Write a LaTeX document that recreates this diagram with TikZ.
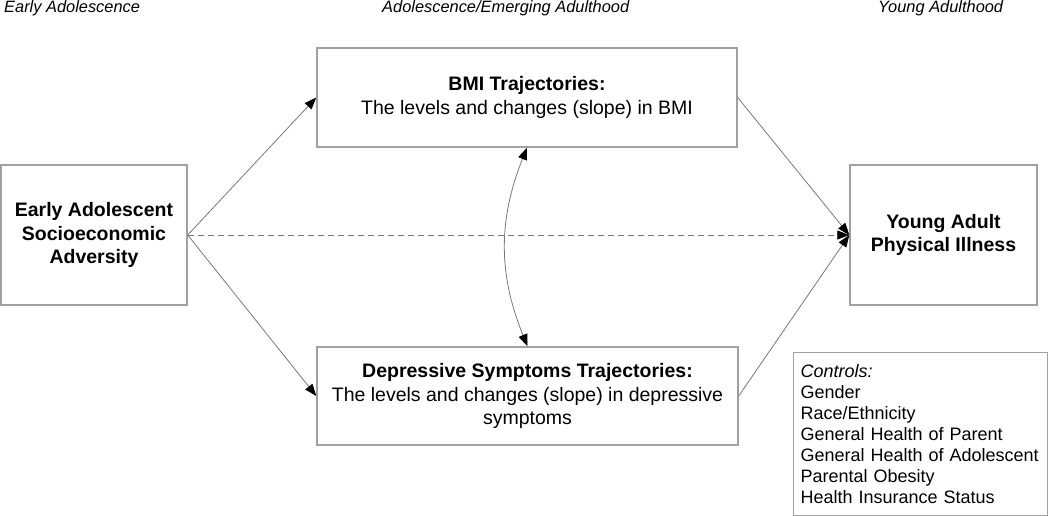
\documentclass[tikz,border=0pt]{standalone}
\usepackage{fontspec}
\setmainfont{Liberation Sans}
\usetikzlibrary{arrows.meta}
\definecolor{boxgray}{RGB}{160,160,160}
\definecolor{linegray}{RGB}{120,120,120}

\begin{document}
\begin{tikzpicture}[x=1pt,y=-1pt,
	box/.style={draw=boxgray,line width=1.4pt,fill=white,align=center,inner sep=0pt,font=\fontsize{19.5}{23.5}\selectfont},
	path/.style={draw=linegray,line width=0.8pt,-{Triangle[length=12pt,width=9pt,fill=black,color=black]}},
	period/.style={anchor=base west,inner sep=0pt,font=\fontsize{16.4}{19}\selectfont\itshape}]
	\useasboundingbox (0,0) rectangle (1050,516);
	% periods
	\node[period] (t1) at (4,13) {Early Adolescence};
	\node[period] (t2) at (382,13) {Adolescence/Emerging Adulthood};
	\node[period] (t3) at (878,13) {Young Adulthood};
	% boxes
	\node[box,minimum width=186pt,minimum height=140pt] (sea) at (94,235) {\bfseries Early Adolescent\\\bfseries Socioeconomic\\\bfseries Adversity};
	\node[box,minimum width=420pt,minimum height=99pt] (bmi) at (527,97.5) {\bfseries BMI Trajectories:\\The levels and changes (slope) in BMI};
	\node[box,minimum width=421pt,minimum height=98pt] (dep) at (527.5,396) {{\bfseries Depressive Symptoms Trajectories:}\\The levels and changes (slope) in depressive\\symptoms};
	\node[box,minimum width=187pt,minimum height=140pt] (ill) at (943.5,235) {\bfseries Young Adult\\\bfseries Physical Illness};
	\node[draw=boxgray,line width=1.2pt,anchor=north west,minimum width=254pt,minimum height=163pt,text width=240pt,inner xsep=7pt,inner ysep=4pt,align=left,font=\fontsize{18}{21}\selectfont] (ctl) at (793,352) {\textit{Controls:}\\Gender\\Race/Ethnicity\\General Health of Parent\\General Health of Adolescent\\Parental Obesity\\Health Insurance Status};
	% paths
	\draw[path] (sea.east) -- (bmi.west);
	\draw[path] (sea.east) -- (dep.west);
	\draw[path] (bmi.east) -- (ill.west);
	\draw[path] (dep.east) -- (ill.west);
	\draw[path,dash pattern=on 6pt off 4pt] (sea.east) -- (ill.west);
	\draw[draw=linegray,line width=0.8pt,{Triangle[length=12pt,width=9pt,fill=black,color=black]}-{Triangle[length=12pt,width=9pt,fill=black,color=black]}] (bmi.south) to[bend right=22] (dep.north);
\end{tikzpicture}
\end{document}
